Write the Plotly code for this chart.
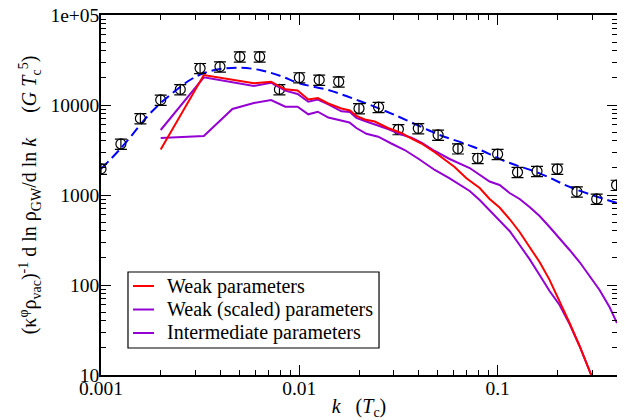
import plotly.graph_objects as go

# ---- data ----
# simulation points with error bars
pts_k = [0.001, 0.00126, 0.00158, 0.002, 0.00251, 0.00316, 0.00398, 0.00501, 0.00631,
         0.00794, 0.01, 0.0126, 0.0158, 0.02, 0.0251, 0.0316, 0.0398, 0.0501, 0.0631,
         0.0794, 0.1, 0.126, 0.158, 0.2, 0.251, 0.316, 0.398]
pts_y = [1950, 3690, 7100, 11400, 14900, 25600, 26700, 34400, 34400,
         14900, 20200, 19000, 18200, 9150, 9450, 5370, 5500, 4660, 3280,
         2560, 2840, 1790, 1840, 1945, 1090, 904, 1290]
pts_err_pct = 13

# dashed fit curve
fit_k = [0.001, 0.00128, 0.0016, 0.00177, 0.002, 0.00223, 0.00281, 0.00328, 0.00398,
         0.00501, 0.00632, 0.00798, 0.01, 0.01397, 0.0206, 0.0303, 0.0446, 0.051,
         0.0751, 0.1106, 0.1628, 0.2395, 0.381, 0.40]
fit_y = [1950, 3441, 6262, 8085, 10525, 12920, 18960, 22500, 25120,
         25970, 24480, 21160, 17430, 14680, 10880, 7743, 5275, 4642,
         3441, 2344, 1742, 1187, 842, 815]

# Weak parameters (red)
weak_k = [0.002, 0.0033, 0.0059, 0.0072, 0.0085, 0.0098, 0.0111, 0.0124, 0.0140, 0.0163,
          0.0180, 0.0194, 0.0214, 0.0240, 0.0280, 0.0327, 0.0368, 0.0413, 0.0482, 0.0562,
          0.0607, 0.0696, 0.0812, 0.0911, 0.1023, 0.1149, 0.1291, 0.1449, 0.1628, 0.1828,
          0.2053, 0.2306, 0.2589, 0.2965, 0.305]
weak_y = [3203, 21544, 17420, 18150, 14940, 14500, 11510, 11960, 10390, 9145,
          8690, 7547, 6901, 6556, 5552, 4886, 4243, 3734, 2982, 2344,
          2047, 1533, 1196, 903, 726, 541, 388, 264, 180, 114,
          66.4, 37.8, 21, 10, 8]

# Weak (scaled) parameters (purple, upper)
scaled_k = [0.002, 0.0033, 0.0059, 0.0072, 0.0085, 0.0098, 0.0111, 0.0124, 0.0140, 0.0163,
            0.0180, 0.0194, 0.0214, 0.0280, 0.0327, 0.0368, 0.0413, 0.0482, 0.0573, 0.0723,
            0.0911, 0.1023, 0.1149, 0.1291, 0.1449, 0.1628, 0.1828, 0.2053, 0.2306, 0.2589,
            0.2909, 0.3266, 0.3666, 0.40]
scaled_y = [5275, 20310, 16260, 17700, 14420, 13250, 10880, 11510, 10180, 8511,
            8360, 7171, 6641, 5412, 4700, 4332, 3831, 3083, 2512, 1995,
            1413, 1292, 1052, 903, 736, 584, 441, 333, 245, 180,
            126, 88, 57, 37.8]

# Intermediate parameters (purple, lower)
inter_k = [0.002, 0.0033, 0.0046, 0.0059, 0.0072, 0.0085, 0.0098, 0.0111, 0.0124, 0.0140,
           0.0179, 0.0194, 0.0218, 0.0250, 0.0291, 0.0340, 0.0397, 0.0482, 0.0573, 0.0723,
           0.0812, 0.0911, 0.1023, 0.1149, 0.1291, 0.1449, 0.1628, 0.1828, 0.2053, 0.2306,
           0.2589, 0.2965, 0.305]
inter_y = [4299, 4524, 9029, 10525, 11370, 9575, 9575, 7883, 8425, 7262,
           6391, 5552, 4786, 4444, 3734, 3162, 2545, 1896, 1533, 1108,
           880, 681, 528, 398, 278, 194, 129, 85.8, 60, 36.9,
           21, 10, 6.8]

legend_names = ["Weak parameters", "Weak (scaled) parameters", "Intermediate parameters"]

x_major = [0.001, 0.01, 0.1]
x_major_text = ["0.001", "0.01", "0.1"]
x_minor = [2e-3, 3e-3, 4e-3, 5e-3, 6e-3, 7e-3, 8e-3, 9e-3,
           0.02, 0.03, 0.04, 0.05, 0.06, 0.07, 0.08, 0.09, 0.2, 0.3, 0.4]
y_major = [10, 100, 1000, 10000, 100000]
y_major_text = ["10", "100", "1000", "10000", "1e+05"]
y_minor = [m * d for d in (10, 100, 1000, 10000) for m in range(2, 10)]

RED = "#ff0000"
PURPLE = "#9400d3"
BLUE = "#0000ff"
FONT = "Liberation Serif"
XR = [-3, -0.398]
YR = [1, 5]

fig = go.Figure()
fig.add_trace(go.Scatter(x=fit_k, y=fit_y, mode="lines",
                         line=dict(color=BLUE, width=2, dash="10px,5px", shape="spline"),
                         showlegend=False, hoverinfo="skip"))
fig.add_trace(go.Scatter(x=pts_k, y=pts_y, mode="markers",
                         marker=dict(symbol="circle-open", size=10, color="black",
                                     line=dict(width=1.2, color="black")),
                         error_y=dict(type="percent", value=pts_err_pct, color="black", thickness=1.2, width=6),
                         showlegend=False))
fig.add_trace(go.Scatter(x=inter_k, y=inter_y, mode="lines", line=dict(color=PURPLE, width=2),
                         name=legend_names[2], showlegend=False))
fig.add_trace(go.Scatter(x=scaled_k, y=scaled_y, mode="lines", line=dict(color=PURPLE, width=2),
                         name=legend_names[1], showlegend=False))
fig.add_trace(go.Scatter(x=weak_k, y=weak_y, mode="lines", line=dict(color=RED, width=2),
                         name=legend_names[0], showlegend=False))
# invisible trace to activate the mirrored (top/right) tick axes
fig.add_trace(go.Scatter(x=[0.01], y=[100], xaxis="x2", yaxis="y2", mode="markers",
                         marker=dict(opacity=0), showlegend=False, hoverinfo="skip"))

tickfont = dict(family=FONT, size=19.5, color="black")
common = dict(type="log", showgrid=False, zeroline=False, ticks="inside", ticklen=10,
              tickwidth=1.2, tickcolor="black")

fig.update_layout(
    xaxis=dict(range=XR, tickvals=x_major, ticktext=x_major_text, tickfont=tickfont,
               showline=True, linecolor="black", linewidth=1.5, mirror=True,
               ticklabeloverflow="allow", ticklabelstandoff=-5,
               minor=dict(tickvals=x_minor, ticks="inside", ticklen=5, tickcolor="black", tickwidth=1.2),
               title=dict(text="<i>k</i>\u00a0\u00a0\u00a0(<i>T</i><sub>c</sub>)",
                          font=dict(family=FONT, size=20, color="black"), standoff=5),
               **common),
    yaxis=dict(range=YR, tickvals=y_major, ticktext=y_major_text, tickfont=tickfont,
               showline=True, linecolor="black", linewidth=1.5, mirror=True,
               ticklabeloverflow="allow", ticklabelstandoff=-4,
               minor=dict(tickvals=y_minor, ticks="inside", ticklen=5, tickcolor="black", tickwidth=1.2),
               title=dict(text="(κ<sup>φ</sup>ρ<sub>vac</sub>)<sup>-1</sup> d ln ρ<sub>GW</sub>/d ln <i>k</i>"
                               "\u00a0\u00a0\u00a0\u00a0\u00a0(<i>G T</i><sub>c</sub><sup>5</sup>)",
                          font=dict(family=FONT, size=20, color="black"), standoff=8),
               **common),
    xaxis2=dict(range=XR, overlaying="x", side="top", anchor="y", tickvals=x_major,
                showticklabels=False, showline=False,
                minor=dict(tickvals=x_minor, ticks="inside", ticklen=5, tickcolor="black", tickwidth=1.2),
                **common),
    yaxis2=dict(range=YR, overlaying="y", side="right", anchor="x", tickvals=y_major,
                showticklabels=False, showline=False,
                minor=dict(tickvals=y_minor, ticks="inside", ticklen=5, tickcolor="black", tickwidth=1.2),
                **common),
)

# legend box drawn in paper coordinates
LEG_X0, LEG_X1, LEG_Y0, LEG_Y1 = 0.0523, 0.5388, 0.075, 0.2861
row_y = [0.2472, 0.1819, 0.1167]
row_col = [RED, PURPLE, PURPLE]
fig.add_shape(type="rect", xref="paper", yref="paper", x0=LEG_X0, x1=LEG_X1, y0=LEG_Y0, y1=LEG_Y1,
              line=dict(color="black", width=1.2), fillcolor="white", layer="above")
for name, yy, col in zip(legend_names, row_y, row_col):
    fig.add_shape(type="line", xref="paper", yref="paper", x0=0.062, x1=0.1027, y0=yy, y1=yy,
                  line=dict(color=col, width=2), layer="above")
    fig.add_annotation(xref="paper", yref="paper", x=0.124, y=yy, text=name, showarrow=False,
                       xanchor="left", yanchor="middle", font=dict(family=FONT, size=20, color="black"))

# page body has an 8px margin, so the figure is offset by 8px; compensate
fig.update_layout(
    width=617, height=412,
    margin=dict(l=93, r=8, t=7, b=45, autoexpand=False),
    paper_bgcolor="white", plot_bgcolor="white",
    font=dict(family=FONT, size=19.5, color="black"),
    showlegend=False,
)

fig.write_html("out.html")
